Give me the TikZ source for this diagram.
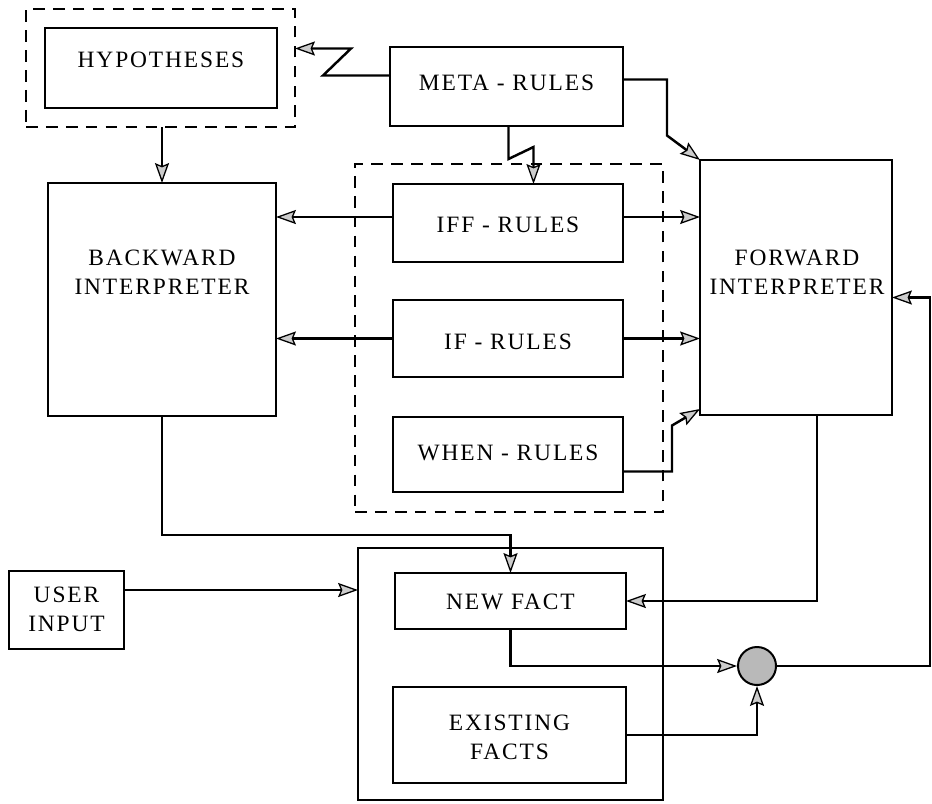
\documentclass[tikz,border=0pt]{standalone}
\usepackage{fontspec}
\setmainfont{Liberation Serif}[LetterSpace=8]
\usetikzlibrary{arrows.meta,calc}

\tikzset{
  box/.style={draw, line width=1.7pt, inner sep=0pt, outer sep=0pt},
  grp/.style={box, line width=2.2pt, dash pattern=on 10pt off 7pt},
  wh/.style 2 args={minimum width=#1*0.03cm, minimum height=#2*0.03cm},
  lbl/.style={align=center, inner sep=0pt, font=\fontsize{20}{24.5}\selectfont},
  arr/.style={line width=2.1pt, -{Stealth[length=17pt,width=12pt,inset=2.5pt,line width=1.1pt,fill=gray!40]}},
}

\begin{document}
\begin{tikzpicture}[x=0.03cm, y=-0.03cm]
  \useasboundingbox (0,0) rectangle (932,803);
  % hypotheses
  \node[grp, wh={269}{118}] (hypd) at (160.5,68) {};
  \node[box, wh={232}{80}] (hyp) at (161,68) {};
  \node[lbl] (hyp-t) at (161,60) {HYPOTHESES};
  % meta-rules
  \node[box, wh={233}{79}] (meta) at (506.5,86.5) {};
  \node[lbl] (meta-t) at (506.5,83) {META - RULES};
  % interpreters
  \node[box, wh={228}{233}] (back) at (162,299.5) {};
  \node[lbl] (back-t) at (162,272) {BACKWARD\\INTERPRETER};
  \node[box, wh={192}{255}] (forw) at (796,287.5) {};
  \node[lbl] (forw-t) at (797,272) {FORWARD\\INTERPRETER};
  % rules
  \node[grp, wh={308}{348}] (rulesd) at (509,338) {};
  \node[box, wh={230}{78}] (iff) at (508,223) {};
  \node[lbl] (iff-t) at (508,225) {IFF - RULES};
  \node[box, wh={230}{77}] (if) at (508,338.5) {};
  \node[lbl] (if-t) at (508,342) {IF - RULES};
  \node[box, wh={230}{75}] (when) at (508,454.5) {};
  \node[lbl] (when-t) at (508,453) {WHEN - RULES};
  % facts
  \node[box, wh={115}{78}] (user) at (66.5,610) {};
  \node[lbl] (user-t) at (66.5,609) {USER\\INPUT};
  \node[box, wh={305}{252}] (facts) at (510.5,674) {};
  \node[box, wh={231}{56}] (newf) at (510.5,601) {};
  \node[lbl] (newf-t) at (510.5,602) {NEW FACT};
  \node[box, wh={233}{96}] (exist) at (509.5,735) {};
  \node[lbl] (exist-t) at (509.5,737) {EXISTING\\FACTS};
  \node[circle, draw, line width=1.7pt, fill=gray!55, inner sep=0pt,
        minimum size=38*0.03cm] (dot) at (757,666) {};

  % connectors
  \draw[arr] ($(meta.west)+(0,-11)$) -- ++(-67,0) -- ++(28,-27) coordinate (z1) -- (z1 -| hypd.east);
  \draw[arr] ($(meta.south)+(2,0)$) -- ++(0,33) -- ++(25,-12) coordinate (z2) -- (z2 |- iff.north);
  \draw[arr] ($(meta.east)+(0,-7)$) -- ++(44,0) -- ++(0,56) -- (forw.north west);
  \draw[arr] (hypd.south -| back.north) -- (back.north);
  \draw[arr] ($(iff.west)+(0,-6)$) coordinate (z3) -- (z3 -| back.east);
  \draw[arr] ($(iff.east)+(0,-6)$) coordinate (z4) -- (z4 -| forw.west);
  \draw[arr] (if.west) -- (if.west -| back.east);
  \draw[arr] (if.east) -- (if.east -| forw.west);
  \draw[arr] ($(when.east)+(0,17)$) -- ++(49,0) -- ++(0,-46) -- ($(forw.south west)+(0,-6)$);
  \draw[arr] (back.south) |- ($(newf.north)+(0,-38)$) -- (newf.north);
  \draw[arr] ($(user.east)+(0,-20)$) coordinate (z5) -- (z5 -| facts.west);
  \draw[arr] ($(forw.south)+(21,0)$) |- (newf.east);
  \draw[arr] (newf.south) |- (dot.west);
  \draw[arr] (exist.east) -| (dot.south);
  \draw[arr] (dot.east) -| ($(forw.east)+(38,10)$) -- ($(forw.east)+(0,10)$);
\end{tikzpicture}
\end{document}
